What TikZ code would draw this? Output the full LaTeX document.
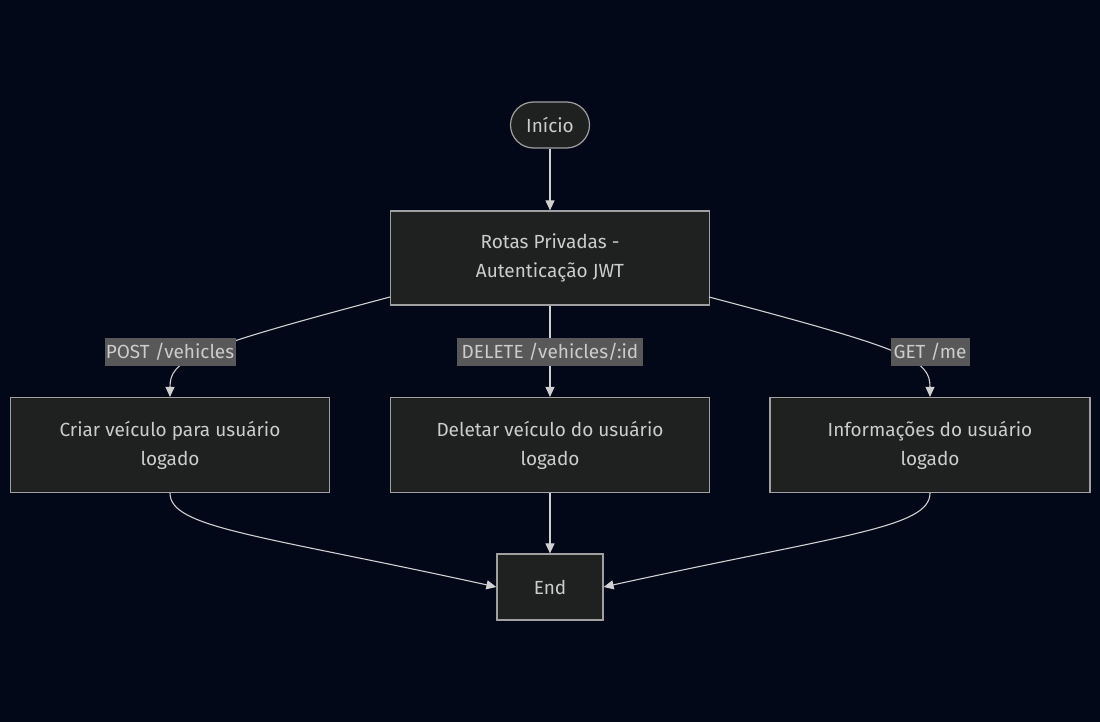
\documentclass[tikz,border=0pt]{standalone}
\usepackage{fontspec}
\setmainfont{Fira Sans}
\usetikzlibrary{arrows.meta,shapes.misc}
\definecolor{bg}{HTML}{020817}
\definecolor{nodefill}{HTML}{1F2020}
\definecolor{nodeline}{HTML}{A0A0A0}
\definecolor{txt}{HTML}{CCCCCC}
\definecolor{edge}{HTML}{D0D0D0}
\definecolor{lblbg}{HTML}{585858}
\tikzset{
  box/.style={draw=nodeline, line width=1.2pt, fill=nodefill, text=txt, inner sep=0pt, align=center,
    font=\fontsize{19}{29}\selectfont},
  pill/.style={box, rounded rectangle},
  lbl/.style={fill=lblbg, text=txt, inner sep=0pt, font=\fontsize{19}{21}\selectfont},
  conn/.style={draw=edge, line width=1.1pt, -{Triangle[length=10pt,width=9pt]}},
}
\begin{document}
\begin{tikzpicture}[x=1pt,y=-1pt]
\path[fill=bg] (0,0) rectangle (1100,722);
\useasboundingbox (0,0) rectangle (1100,722);
\node[pill, minimum width=79pt, minimum height=46pt] (start) at (550,125) {Início};
\node[box, minimum width=319pt, minimum height=94pt] (rotas) at (550,258) {Rotas Privadas -\\Autenticação JWT};
\node[box, minimum width=319pt, minimum height=95pt] (criar) at (170,445) {Criar veículo para usuário\\logado};
\node[box, minimum width=319pt, minimum height=95pt] (del) at (550,445) {Deletar veículo do usuário\\logado};
\node[box, minimum width=320pt, minimum height=95pt] (info) at (930,445) {Informações do usuário\\logado};
\node[box, minimum width=106pt, minimum height=66pt] (end) at (550,587) {End};
\coordinate (rl) at (390,297);
\coordinate (rr) at (709,297);
\draw[conn] (start.south) -- (rotas.north);
\draw[conn] (rl) .. controls (190,350) and (170,360) .. (criar.north);
\draw[conn] (rotas.south) -- (del.north);
\draw[conn] (rr) .. controls (910,350) and (930,360) .. (info.north);
\draw[conn] (criar.south) .. controls (170,528) and (260,535) .. (end.west);
\draw[conn] (del.south) -- (end.north);
\draw[conn] (info.south) .. controls (930,528) and (840,535) .. (end.east);
\node[lbl, minimum width=131pt, minimum height=28pt] (l1) at (170,352) {POST /vehicles};
\node[lbl, minimum width=186pt, minimum height=28pt] (l2) at (550,352) {DELETE /vehicles/:id};
\node[lbl, minimum width=79pt, minimum height=28pt] (l3) at (930,352) {GET /me};
\end{tikzpicture}
\end{document}
